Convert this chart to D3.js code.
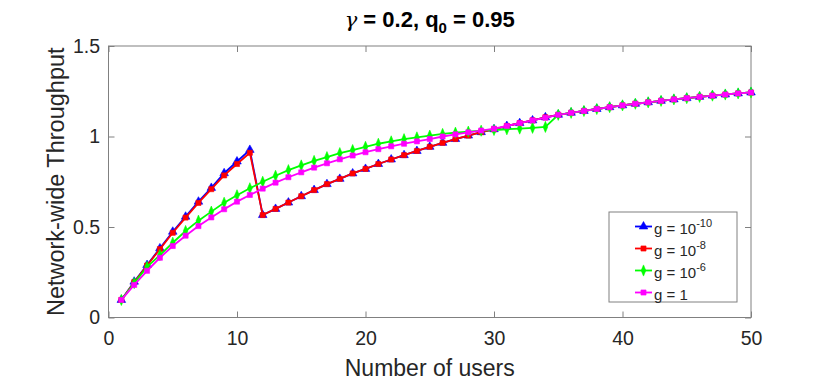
<!DOCTYPE html>
<html>
<head>
<meta charset="utf-8">
<script src="https://cdn.jsdelivr.net/npm/d3@7"></script>
<style>
  body { margin: 0; background: #fff; }
  svg { font-family: "Liberation Sans", Arial, sans-serif; }
</style>
</head>
<body>
<div id="chart"></div>
<script>
// data
var users = d3.range(1, 51);

var gTen = [0.097, 0.198, 0.290, 0.382, 0.474, 0.557, 0.640, 0.716, 0.797, 0.862,
  0.926, 0.566, 0.600, 0.635, 0.670, 0.704, 0.737, 0.766, 0.796, 0.821,
  0.848, 0.873, 0.897, 0.920, 0.943, 0.965, 0.986, 1.005, 1.024, 1.040,
  1.058, 1.074, 1.089, 1.106, 1.120, 1.131, 1.141, 1.152, 1.162, 1.172,
  1.181, 1.189, 1.197, 1.205, 1.212, 1.219, 1.226, 1.232, 1.238, 1.243];

var gEight = [0.097, 0.195, 0.287, 0.378, 0.468, 0.552, 0.633, 0.709, 0.785, 0.848,
  0.910, 0.566, 0.600, 0.635, 0.670, 0.704, 0.737, 0.766, 0.796, 0.821,
  0.848, 0.873, 0.897, 0.920, 0.943, 0.965, 0.986, 1.005, 1.024, 1.040,
  1.058, 1.074, 1.089, 1.106, 1.120, 1.131, 1.141, 1.152, 1.162, 1.172,
  1.181, 1.189, 1.197, 1.205, 1.212, 1.219, 1.226, 1.232, 1.238, 1.243];

var gSix = [0.097, 0.190, 0.280, 0.345, 0.413, 0.478, 0.535, 0.585, 0.634, 0.675,
  0.714, 0.750, 0.783, 0.814, 0.840, 0.865, 0.886, 0.908, 0.925, 0.943,
  0.960, 0.973, 0.985, 0.995, 1.005, 1.014, 1.021, 1.027, 1.032, 1.036,
  1.040, 1.044, 1.048, 1.053, 1.120, 1.131, 1.141, 1.152, 1.162, 1.172,
  1.181, 1.189, 1.197, 1.205, 1.212, 1.219, 1.226, 1.232, 1.238, 1.243];

var gOne = [0.097, 0.180, 0.258, 0.330, 0.395, 0.452, 0.505, 0.553, 0.598, 0.640,
  0.677, 0.712, 0.745, 0.775, 0.802, 0.828, 0.852, 0.874, 0.895, 0.913,
  0.930, 0.946, 0.960, 0.973, 0.986, 1.000, 1.012, 1.023, 1.033, 1.043,
  1.058, 1.074, 1.089, 1.104, 1.120, 1.131, 1.141, 1.152, 1.162, 1.172,
  1.181, 1.189, 1.197, 1.205, 1.212, 1.219, 1.226, 1.232, 1.238, 1.243];

var xTicks = [0, 10, 20, 30, 40, 50];
var yTicks = [0, 0.5, 1, 1.5];

var series = [
  {name: 'g = 10', exp: '-10', values: gTen, color: '#0000ff', marker: 'triangle'},
  {name: 'g = 10', exp: '-8', values: gEight, color: '#ff0000', marker: 'square'},
  {name: 'g = 10', exp: '-6', values: gSix, color: '#00ff00', marker: 'diamond'},
  {name: 'g = 1', exp: '', values: gOne, color: '#ff00ff', marker: 'square'}
];

// set up chart
var width = 830,
  height = 381;

var svg = d3.select('#chart').append('svg')
    .attr('width', width)
    .attr('height', height);

var x = d3.scaleLinear().domain([0, 50]).range([108.5, 751]);
var y = d3.scaleLinear().domain([0, 1.5]).range([317.5, 46]);

var axisColor = '#808080', textColor = '#262626';

// axes, ticks point inward
var xAxis = d3.axisBottom(x).tickValues(xTicks).tickSizeInner(-6).tickSizeOuter(0).tickPadding(14);
var yAxis = d3.axisLeft(y).tickValues(yTicks).tickSizeInner(-6).tickSizeOuter(0).tickPadding(8.5)
    .tickFormat(d3.format('~g'));

function styleAxis(g, labels) {
  g.select('.domain').remove();
  g.selectAll('line').attr('stroke', axisColor);
  g.selectAll('text')
    .attr('fill', textColor)
    .style('font-size', '19.5px')
    .style('display', labels ? null : 'none');
}

svg.append('g')
  .attr('transform', 'translate(0,' + y(0) + ')')
  .call(xAxis).call(styleAxis, true);
svg.append('g')
  .attr('transform', 'translate(0,' + y(1.5) + ')')
  .call(d3.axisTop(x).tickValues(xTicks).tickSizeInner(-6).tickSizeOuter(0))
  .call(styleAxis, false);
svg.append('g')
  .attr('transform', 'translate(' + x(0) + ',0)')
  .call(yAxis).call(styleAxis, true);
svg.append('g')
  .attr('transform', 'translate(' + x(50) + ',0)')
  .call(d3.axisRight(y).tickValues(yTicks).tickSizeInner(-6).tickSizeOuter(0))
  .call(styleAxis, false);

// box
svg.append('rect')
  .attr('x', x(0)).attr('y', y(1.5))
  .attr('width', x(50) - x(0)).attr('height', y(0) - y(1.5))
  .attr('fill', 'none').attr('stroke', axisColor).attr('stroke-width', 1);

// markers
var symbolType = {triangle: d3.symbolTriangle, square: d3.symbolSquare, diamond: d3.symbolDiamond};
var symbolSize = {triangle: 32, square: 26, diamond: 30};
function markerPath(m) {
  return d3.symbol().type(symbolType[m]).size(symbolSize[m])();
}

var line = d3.line()
  .x(function(d, i) { return x(users[i]); })
  .y(function(d) { return y(d); });

series.forEach(function(s) {
  var g = svg.append('g');
  g.append('path')
    .attr('d', line(s.values))
    .attr('fill', 'none')
    .attr('stroke', s.color)
    .attr('stroke-width', 1.8);
  g.selectAll('path.pt')
    .data(s.values)
    .enter().append('path')
    .attr('class', 'pt')
    .attr('d', markerPath(s.marker))
    .attr('transform', function(d, i) {
      return 'translate(' + x(users[i]) + ',' + y(d) + ')' + (s.marker === 'diamond' ? ' scale(0.8,1.1)' : '');
    })
    .attr('fill', s.color)
    .attr('stroke', s.color)
    .attr('stroke-width', 0.6);
});

// axis labels
svg.append('text')
  .attr('x', (x(0) + x(50)) / 2)
  .attr('y', 376)
  .attr('text-anchor', 'middle')
  .attr('fill', textColor)
  .style('font-size', '23px')
  .text('Number of users');

svg.append('text')
  .attr('transform', 'translate(64,' + ((y(0) + y(1.5)) / 2) + ') rotate(-90)')
  .attr('text-anchor', 'middle')
  .attr('fill', textColor)
  .style('font-size', '23.5px')
  .text('Network-wide Throughput');

// title
var title = svg.append('text')
  .attr('x', (x(0) + x(50)) / 2)
  .attr('y', 27)
  .attr('text-anchor', 'middle')
  .attr('fill', '#000')
  .style('font-size', '22px')
  .style('font-weight', 'bold');
title.append('tspan')
  .style('font-family', '"DejaVu Serif", serif')
  .style('font-style', 'italic')
  .style('font-weight', 'normal')
  .style('font-size', '21px')
  .text('\u03b3');
title.append('tspan').text(' = 0.2, q');
title.append('tspan').attr('dy', 6).style('font-size', '15px').text('0');
title.append('tspan').attr('dy', -6).text(' = 0.95');

// legend
var legend = svg.append('g')
  .attr('transform', 'translate(609,212)');

legend.append('rect')
  .attr('width', 128).attr('height', 90)
  .attr('fill', '#fff').attr('stroke', axisColor).attr('stroke-width', 1);

var rowY = d3.scalePoint().domain(d3.range(series.length)).range([14.5, 80.5]);

series.forEach(function(s, i) {
  var row = legend.append('g').attr('transform', 'translate(0,' + rowY(i) + ')');
  row.append('line')
    .attr('x1', 26).attr('x2', 43)
    .attr('stroke', s.color).attr('stroke-width', 1.8);
  row.append('path')
    .attr('d', markerPath(s.marker))
    .attr('transform', 'translate(34.5,0)' + (s.marker === 'diamond' ? ' scale(0.8,1.1)' : ''))
    .attr('fill', s.color).attr('stroke', s.color).attr('stroke-width', 0.6);
  var t = row.append('text')
    .attr('x', 45).attr('y', 7)
    .attr('fill', textColor)
    .style('font-size', '15px');
  t.append('tspan').text(s.name);
  if (s.exp) {
    t.append('tspan').attr('dy', -7).style('font-size', '11px').text(s.exp);
  }
});
</script>
</body>
</html>
